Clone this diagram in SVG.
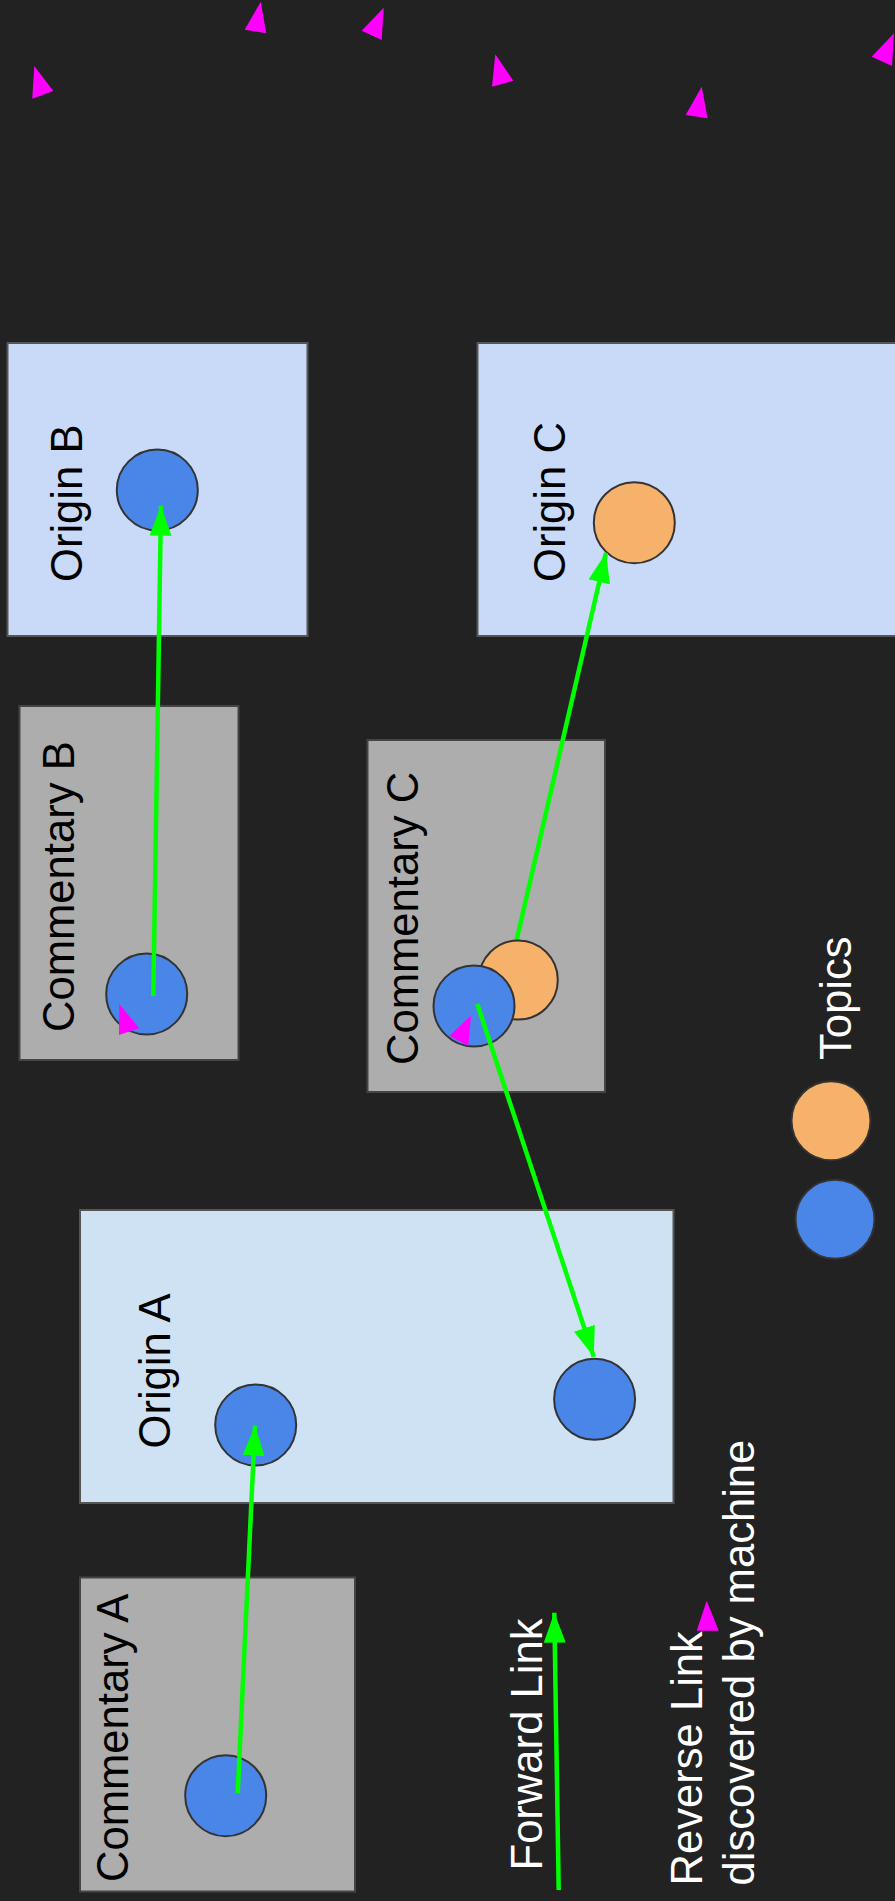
<svg xmlns="http://www.w3.org/2000/svg" width="895" height="1901" viewBox="0 0 895 1901">
<defs>
<style>
.origin{fill:#c9daf8;stroke:#555;stroke-width:2}
.originA{fill:#cfe2f3;stroke:#555;stroke-width:2}
.comm{fill:#adadad;stroke:#444;stroke-width:2}
.blue{fill:#4a86e8;stroke:#333;stroke-width:2}
.orange{fill:#f6b26b;stroke:#333;stroke-width:2}
.lbl{font-family:"Liberation Sans",Arial,sans-serif;font-size:43.6px;fill:#000}
.wlbl{font-family:"Liberation Sans",Arial,sans-serif;font-size:43.6px;fill:#fff}
.fwd{stroke:#00ff00;stroke-width:4.5;fill:none;marker-end:url(#ga)}
.rev{fill:#ff00ff}
</style>
<marker id="ga" markerUnits="userSpaceOnUse" markerWidth="30" markerHeight="22" refX="30" refY="11" orient="auto" viewBox="0 0 30 22">
<path d="M0,0 L30,11 L0,22 z" fill="#00ff00"/>
</marker>
</defs>
<rect x="0" y="0" width="895" height="1901" fill="#222222"/>

<g id="origin-b">
<rect class="origin" x="7.5" y="343" width="300" height="293"/>
<text class="lbl" transform="translate(81.7,582) rotate(-90)">Origin B</text>
</g>
<g id="origin-c">
<rect class="origin" x="477.5" y="343" width="430" height="293"/>
<text class="lbl" transform="translate(565,582) rotate(-90)">Origin C</text>
</g>
<g id="commentary-b">
<rect class="comm" x="19.5" y="706" width="219" height="354"/>
<text class="lbl" transform="translate(74,1032) rotate(-90)">Commentary B</text>
</g>
<g id="commentary-c">
<rect class="comm" x="367.5" y="740" width="237.5" height="352"/>
<text class="lbl" transform="translate(418.3,1065) rotate(-90)">Commentary C</text>
</g>
<g id="origin-a">
<rect class="originA" x="80" y="1210" width="593.5" height="293"/>
<text class="lbl" transform="translate(170,1448.5) rotate(-90)">Origin A</text>
</g>
<g id="commentary-a">
<rect class="comm" x="80" y="1577.5" width="275" height="314"/>
<text class="lbl" transform="translate(128.3,1882) rotate(-90)">Commentary A</text>
</g>

<g id="topic-ob"><circle class="blue" cx="157.3" cy="490" r="40.5"/></g>
<g id="topic-oc"><circle class="orange" cx="634.3" cy="522.7" r="40.5"/></g>
<g id="topic-oa1"><circle class="blue" cx="255.7" cy="1425" r="40.5"/></g>
<g id="topic-oa2"><circle class="blue" cx="594.6" cy="1399.3" r="40.5"/></g>
<g id="topic-cb"><circle class="blue" cx="146.7" cy="994" r="40.5"/></g>
<g id="topic-ca"><circle class="blue" cx="225.7" cy="1795.7" r="40.5"/></g>

<g id="connectors-under">
<line class="fwd" x1="512" y1="960" x2="606" y2="552.7"/>
</g>
<g id="topic-cc-orange"><circle class="orange" cx="518.3" cy="980" r="39.5"/></g>
<g id="topic-cc-blue"><circle class="blue" cx="474" cy="1006" r="40.5"/></g>

<g id="connectors">
<line class="fwd" x1="153.3" y1="996" x2="161" y2="505.7"/>
<line class="fwd" x1="477.3" y1="1004" x2="593.8" y2="1356.7"/>
<line class="fwd" x1="237.7" y1="1793.3" x2="255" y2="1425.7"/>
<polygon class="rev" points="119.3,1004 139.3,1028.3 119,1035"/>
<polygon class="rev" points="471,1015.7 468.3,1046 449.3,1035.7"/>
<polygon class="rev" points="34.3,66 53.3,91 32.3,98.7"/>
<polygon class="rev" points="260.7,1.7 266.3,33.3 244.7,29.7"/>
<polygon class="rev" points="383.7,7.7 381.7,40 361.7,30.7"/>
<polygon class="rev" points="495.3,54.3 513.3,80.7 492,86.7"/>
<polygon class="rev" points="701.7,86.7 707.7,118.3 685.7,115"/>
<polygon class="rev" points="894,33.3 892,66 871.7,56.7"/>
</g>

<g id="legend">
<circle class="orange" cx="831" cy="1120.7" r="39.5"/>
<circle class="blue" cx="835" cy="1219.3" r="39.5"/>
<text class="wlbl" transform="translate(850.7,1060) rotate(-90)">Topics</text>
<line class="fwd" x1="558.7" y1="1890" x2="554.3" y2="1612.7"/>
<text class="wlbl" transform="translate(541.7,1870.5) rotate(-90)">Forward Link</text>
<polygon class="rev" points="706.7,1600.7 696.7,1630.7 718.7,1630.7"/>
<text class="wlbl" transform="translate(701.7,1885.5) rotate(-90)">Reverse Link<tspan x="0" dy="52.3">discovered by machine</tspan></text>
</g>
</svg>
